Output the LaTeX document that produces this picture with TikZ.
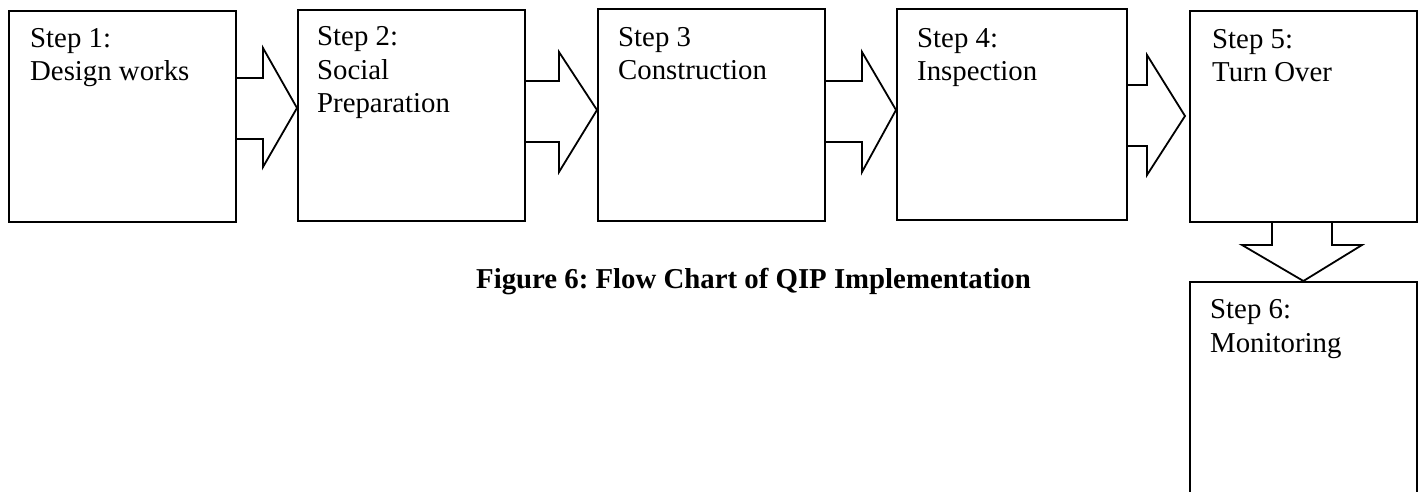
\documentclass[tikz,border=0pt]{standalone}
\usepackage{fontspec}
\setmainfont{Liberation Serif}
\frenchspacing
\begin{document}
\begin{tikzpicture}[x=1pt,y=-1pt,
  stepbox/.style={draw, line width=1.8pt, rectangle, inner sep=0pt,
    minimum width=228pt, minimum height=211pt, anchor=north west},
  steptext/.style={anchor=base west, align=left, inner sep=0pt,
    font=\fontsize{28.8}{33.5}\selectfont},
  blockarrow/.style={draw, line width=1.8pt, line join=miter}]
\useasboundingbox (0,0) rectangle (1423,492);
\clip (0,0) rectangle (1423,492);
\fill[white] (0,0) rectangle (1423,492);

% process boxes
\node[stepbox, minimum width=227pt] (b1) at (8,10) {};
\node[stepbox, minimum width=227pt] (b2) at (297,9) {};
\node[stepbox, minimum width=227pt, minimum height=212pt] (b3) at (597,8) {};
\node[stepbox, minimum width=230pt, minimum height=211pt] (b4) at (896,8) {};
\node[stepbox, minimum width=227pt] (b5) at (1189,10) {};
\node[stepbox, minimum width=227pt, minimum height=240pt] (b6) at (1189,281) {};

% step labels (anchored at the baseline of their last line)
\node[steptext] (t1) at (30,81) {Step 1:\\Design works};
\node[steptext] (t2) at (317,113) {Step 2:\\Social\\Preparation};
\node[steptext] (t3) at (618,80) {Step 3\\Construction};
\node[steptext] (t4) at (917,81) {Step 4:\\Inspection};
\node[steptext] (t5) at (1212,82) {Step 5:\\Turn Over};
\node[steptext] (t6) at (1210,352) {Step 6:\\Monitoring};

% block arrows between the steps
\draw[blockarrow] (b1.east |- 0,78) -- (263,78) -- (263,48) -- (b2.west |- 0,108)
  -- (263,167) -- (263,139) -- (b1.east |- 0,139);
\draw[blockarrow] (b2.east |- 0,81) -- (559,81) -- (559,52) -- (b3.west |- 0,110)
  -- (559,172) -- (559,142) -- (b2.east |- 0,142);
\draw[blockarrow] (b3.east |- 0,81) -- (862,81) -- (862,52) -- (b4.west |- 0,110)
  -- (862,172) -- (862,142) -- (b3.east |- 0,142);
\draw[blockarrow] (b4.east |- 0,85) -- (1147,85) -- (1147,55) -- (1185,116)
  -- (1147,175) -- (1147,146) -- (b4.east |- 0,146);
\draw[blockarrow] (1272,0 |- b5.south) -- (1272,245) -- (1242,245) -- (b6.north)
  -- (1362,245) -- (1332,245) -- (1332,0 |- b5.south);

% caption
\node[anchor=base, inner sep=0pt, font=\fontsize{28.8}{33.5}\selectfont\bfseries]
  (cap) at (753.5,288) {Figure 6: Flow Chart of QIP Implementation};
\end{tikzpicture}
\end{document}
